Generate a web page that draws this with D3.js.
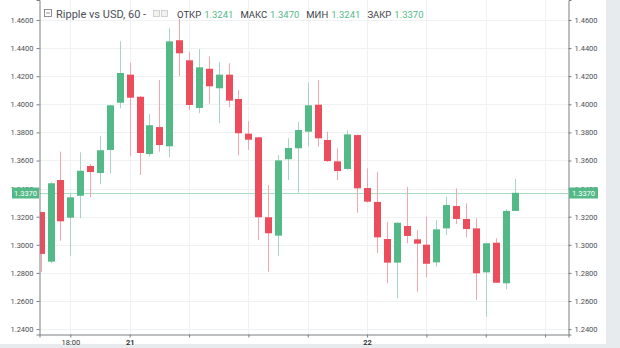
<!DOCTYPE html>
<html>
<head>
<meta charset="utf-8">
<script src="https://cdn.jsdelivr.net/npm/d3@7/dist/d3.min.js"></script>
<style>
  html, body { margin: 0; padding: 0; background: #ffffff; }
  svg { display: block; }
  text { font-family: Roboto, "Open Sans", sans-serif; }
</style>
</head>
<body>
<svg id="chart" width="620" height="348"></svg>
<script>
// Hourly XRP/USD candles, first bar opens 20 Jan 15:00 (UTC)
const firstBar = "2018-01-20T15:00:00Z";
const open  = [1.3233, 1.2880, 1.3461, 1.3193, 1.3349, 1.3561, 1.3511, 1.3675, 1.4011, 1.4211,
               1.4054, 1.3646, 1.3838, 1.3701, 1.4456, 1.4313, 1.3974, 1.4253, 1.4114, 1.4211,
               1.4038, 1.3791, 1.3765, 1.3196, 1.3065, 1.3609, 1.3687, 1.3805, 1.3997, 1.3746,
               1.3594, 1.3540, 1.3781, 1.3404, 1.3305, 1.3041, 1.2873, 1.3134, 1.3039, 1.3001,
               1.2875, 1.3117, 1.3276, 1.3184, 1.3117, 1.2804, 1.3015, 1.2726, 1.3241];
const high  = [1.3236, 1.3445, 1.3663, 1.3371, 1.3658, 1.3575, 1.3774, 1.3995, 1.4448, 1.4296,
               1.4058, 1.3929, 1.4173, 1.4541, 1.4607, 1.4374, 1.4394, 1.4339, 1.4303, 1.4292,
               1.4102, 1.3879, 1.3768, 1.3426, 1.3639, 1.3758, 1.3876, 1.4155, 1.4173, 1.3805,
               1.3687, 1.3817, 1.3785, 1.3544, 1.3520, 1.3164, 1.3160, 1.3413, 1.3105, 1.3200,
               1.3176, 1.3342, 1.3402, 1.3295, 1.3189, 1.3015, 1.3046, 1.3253, 1.3470];
const low   = [1.2806, 1.2870, 1.3029, 1.2920, 1.3189, 1.3338, 1.3431, 1.3509, 1.3971, 1.3632,
               1.3497, 1.3627, 1.3663, 1.3623, 1.4201, 1.3959, 1.3936, 1.4007, 1.3865, 1.3979,
               1.3637, 1.3675, 1.3034, 1.2809, 1.2920, 1.3461, 1.3371, 1.3698, 1.3698, 1.3590,
               1.3461, 1.3535, 1.3228, 1.3300, 1.2939, 1.2726, 1.2619, 1.3011, 1.2666, 1.2769,
               1.2844, 1.3070, 1.3148, 1.3053, 1.2607, 1.2488, 1.2728, 1.2683, 1.3241];
const close = [1.2935, 1.3438, 1.3167, 1.3338, 1.3527, 1.3518, 1.3673, 1.3993, 1.4223, 1.4047,
               1.3653, 1.3851, 1.3710, 1.4448, 1.4363, 1.3995, 1.4263, 1.4128, 1.4211, 1.4026,
               1.3794, 1.3748, 1.3196, 1.3082, 1.3601, 1.3689, 1.3817, 1.3993, 1.3758, 1.3596,
               1.3525, 1.3786, 1.3402, 1.3307, 1.3053, 1.2873, 1.3157, 1.3063, 1.3008, 1.2865,
               1.3110, 1.3283, 1.3184, 1.3112, 1.2797, 1.3011, 1.2730, 1.3241, 1.3370];

// Price axis ticks and time axis labels
const priceTicks = [1.24, 1.26, 1.28, 1.30, 1.32, 1.34, 1.36, 1.38, 1.40, 1.42, 1.44, 1.46];
const timeTickLabels = ["18:00", "21", "", "", "", "22", "", "", ""];
const boldTimeLabels = ["21", "22"];

// Legend
const title = "Ripple vs USD, 60";
const legendNames = ["ОТКР", "МАКС", "МИН", "ЗАКР"];
const lastBar = { o: open[open.length - 1], h: high[high.length - 1], l: low[low.length - 1], c: close[close.length - 1] };

const UP = "#53b987", DOWN = "#eb4d5c";
const UP_WICK = "#a9d3c6", DOWN_WICK = "#f4a6ae";
const AXIS = "#7b7e82", GRID = "#f0f1f2", TXT = "#4b4f56";

const svg = d3.select("#chart");
const W = 620, H = 348;
const plot = { left: 39.5, right: 568.5, top: 0, bottom: 334.5 };

// Surrounding panel
svg.append("rect").attr("width", W).attr("height", H).attr("fill", "#e8ebee");
svg.append("rect").attr("x", 0).attr("y", 0).attr("width", 606).attr("height", 344).attr("fill", "#ffffff");

const times = open.map((_, i) => d3.utcHour.offset(new Date(firstBar), i));
const candles = times.map((t, i) => ({ t, o: open[i], h: high[i], l: low[i], c: close[i] }));

// Time scale: one hour per bar step; 18:00 bar sits at x = 70.3
const pxPerHour = 9.89;
const leadMinutes = Math.round(60 * (70.3 - 3 * pxPerHour - plot.left) / pxPerHour);
const spanMinutes = Math.round(60 * (plot.right - plot.left) / pxPerHour);
const x = d3.scaleUtc()
  .domain([d3.utcMinute.offset(times[0], -leadMinutes),
           d3.utcMinute.offset(times[0], spanMinutes - leadMinutes)])
  .range([plot.left, plot.right]);

const y = d3.scaleLinear()
  .domain([1.46 - (plot.bottom - 20) / 1405, 1.46 + 20 / 1405])
  .range([plot.bottom, plot.top]);

// Grid
const timeTicks = d3.utcHour.every(6).range(x.domain()[0], x.domain()[1]);
const grid = svg.append("g");
grid.selectAll("line.h").data(priceTicks).join("line")
  .attr("x1", plot.left).attr("x2", plot.right)
  .attr("y1", d => Math.round(y(d)) + 0.5).attr("y2", d => Math.round(y(d)) + 0.5)
  .attr("stroke", GRID);
grid.selectAll("line.v").data(timeTicks).join("line")
  .attr("x1", d => Math.round(x(d)) + 0.5).attr("x2", d => Math.round(x(d)) + 0.5)
  .attr("y1", plot.top).attr("y2", plot.bottom)
  .attr("stroke", GRID);

// Candles, clipped to the plot area
svg.append("clipPath").attr("id", "plotClip").append("rect")
  .attr("x", plot.left + 0.5).attr("y", plot.top).attr("width", plot.right - plot.left - 1).attr("height", plot.bottom - plot.top);
const body = svg.append("g").attr("clip-path", "url(#plotClip)");

// Last price line
body.append("line")
  .attr("x1", plot.left).attr("x2", plot.right)
  .attr("y1", Math.round(y(lastBar.c)) + 0.5).attr("y2", Math.round(y(lastBar.c)) + 0.5)
  .attr("stroke", "#a8dcc3");

const bw = 7;
body.selectAll("line.wick").data(candles).join("line")
  .attr("x1", d => Math.round(x(d.t)) + 0.5).attr("x2", d => Math.round(x(d.t)) + 0.5)
  .attr("y1", d => y(d.h)).attr("y2", d => y(d.l))
  .attr("stroke", d => d.c >= d.o ? UP_WICK : DOWN_WICK).attr("stroke-width", 1);
body.selectAll("rect.body").data(candles).join("rect")
  .attr("x", d => Math.round(x(d.t)) + 0.5 - bw / 2)
  .attr("y", d => y(Math.max(d.o, d.c)))
  .attr("width", bw)
  .attr("height", d => Math.max(1, Math.abs(y(d.o) - y(d.c))))
  .attr("fill", d => d.c >= d.o ? UP : DOWN);

// Price axes
const fmt = d3.format(".4f");
const leftAxis = svg.append("g").attr("transform", `translate(${plot.left},0)`)
  .call(d3.axisLeft(y).tickValues(priceTicks).tickFormat(fmt).tickSize(3).tickPadding(3));
const rightAxis = svg.append("g").attr("transform", `translate(${plot.right},0)`)
  .call(d3.axisRight(y).tickValues(priceTicks).tickFormat(fmt).tickSize(3).tickPadding(3));
const bottomAxis = svg.append("g").attr("transform", `translate(0,${plot.bottom})`)
  .call(d3.axisBottom(x).tickValues(timeTicks).tickFormat((d, i) => timeTickLabels[i] || "").tickSize(3).tickPadding(2));

[leftAxis, rightAxis, bottomAxis].forEach(g => {
  g.select(".domain").attr("stroke", AXIS);
  g.selectAll(".tick line").attr("stroke", AXIS);
  g.selectAll(".tick text").attr("fill", TXT).attr("font-size", 7.5)
    .attr("font-family", "Roboto, sans-serif");
});
bottomAxis.selectAll(".tick text").attr("font-weight", d => boldTimeLabels.includes(timeTickLabels[timeTicks.indexOf(d)]) ? "bold" : "normal")
  .attr("fill", "#333");

// Last price tags on both axes (they sit over the nearby 1.3400 tick labels)
const tagY = Math.round(y(lastBar.c));
[[12, plot.left - 12 - 0.5], [plot.right + 0.5, 29]].forEach(([tx, tw]) => {
  svg.append("rect").attr("x", tx).attr("y", tagY - 5.5).attr("width", tw).attr("height", 11)
    .attr("fill", UP);
  svg.append("text").attr("x", tx + tw / 2).attr("y", tagY + 3)
    .attr("text-anchor", "middle").attr("font-size", 7.5).attr("fill", "#ffffff")
    .text(fmt(lastBar.c));
});

// Legend line
const legend = svg.append("g");
legend.append("rect").attr("x", 44.5).attr("y", 9.5).attr("width", 7).attr("height", 7)
  .attr("fill", "none").attr("stroke", "#777").attr("stroke-width", 0.8);
legend.append("line").attr("x1", 46).attr("x2", 50).attr("y1", 13).attr("y2", 13)
  .attr("stroke", "#777").attr("stroke-width", 0.8);
legend.append("text").attr("x", 56).attr("y", 18).attr("font-size", 11)
  .attr("fill", "#4a4f57").text(title + " -");
[153.5, 161.5].forEach(ix => {
  legend.append("rect").attr("x", ix).attr("y", 10.5).attr("width", 6).attr("height", 6)
    .attr("fill", "#f2f2f2").attr("stroke", "#c8c8c8").attr("stroke-width", 0.8);
});
const legendValues = [lastBar.o, lastBar.h, lastBar.l, lastBar.c];
const lt = legend.append("text").attr("x", 177).attr("y", 17.5).attr("font-size", 9.5);
legendNames.forEach((n, i) => {
  lt.append("tspan").attr("fill", "#3d4148").attr("dx", i === 0 ? 0 : 7).text(n);
  lt.append("tspan").attr("fill", UP).attr("dx", 3).text(fmt(legendValues[i]));
});
</script>
</body>
</html>
